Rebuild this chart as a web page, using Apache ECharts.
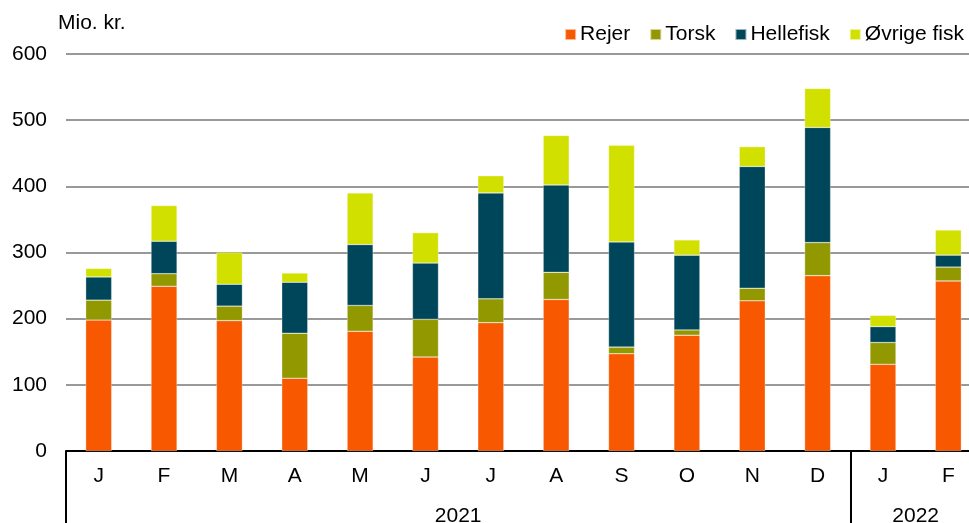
<!DOCTYPE html>
<html>
<head>
<meta charset="utf-8">
<script src="https://cdn.jsdelivr.net/npm/echarts@6/dist/echarts.min.js"></script>
<style>
  html, body { margin: 0; padding: 0; background: #fff; }
  #chart { width: 969px; height: 523px; }
</style>
</head>
<body>
<div id="chart"></div>
<script>
// months 2021 J..D, 2022 J,F
const months = ['J', 'F', 'M', 'A', 'M', 'J', 'J', 'A', 'S', 'O', 'N', 'D', 'J', 'F'];
const years = ['2021', '2022'];
const yearPos = [6, 13];

// Mio. kr.
const rejer     = [198, 249, 197, 110, 181, 142, 194, 229, 147, 175, 227, 265, 131, 257];
const torsk     = [30, 19, 22, 68, 39, 57, 36, 41, 10, 8, 19, 50, 33, 21];
const hellefisk = [35, 49, 33, 77, 92, 85, 160, 132, 159, 113, 184, 174, 24, 18];
const oevrige   = [13, 54, 48, 14, 78, 46, 26, 75, 146, 23, 30, 59, 17, 38];

const font = 'Liberation Sans, Arial, sans-serif';
const fs = 21;

function makeSeries(name, data, color) {
  return {
    name,
    type: 'bar',
    stack: 'total',
    barWidth: 26,
    data,
    itemStyle: {
      color,
      borderColor: 'rgba(255,255,255,0.6)',
      borderWidth: 0.5
    }
  };
}

const chart = echarts.init(document.getElementById('chart'));
const option = {
  animation: false,
  textStyle: { fontFamily: font },
  title: {
    text: 'Mio. kr.',
    left: 53,
    top: 8,
    textStyle: { fontSize: fs, fontWeight: 'normal', color: '#000', fontFamily: font }
  },
  legend: {
    right: 0,
    top: 19,
    itemWidth: 11,
    itemHeight: 11,
    itemGap: 19,
    icon: 'rect',
    textStyle: { fontSize: fs, color: '#000', fontFamily: font, padding: [0, 0, 0, -1] },
    data: ['Rejer', 'Torsk', 'Hellefisk', 'Øvrige fisk']
  },
  grid: {
    left: 66,
    right: -12,
    top: 54,
    bottom: 72,
    outerBoundsMode: 'none'
  },
  xAxis: [
    {
      type: 'category',
      data: months,
      axisLine: { lineStyle: { color: '#000', width: 2 } },
      axisTick: {
        show: true,
        interval: (index) => index === 0 || index === 12,
        length: 80,
        lineStyle: { color: '#000', width: 2 }
      },
      axisLabel: { fontSize: fs, color: '#000', margin: 15, fontFamily: font }
    },
    {
      type: 'value',
      position: 'bottom',
      min: 0,
      max: 14,
      interval: 1,
      axisLine: { show: false },
      axisTick: { show: false },
      splitLine: { show: false },
      axisLabel: {
        fontSize: fs,
        color: '#000',
        margin: 55,
        fontFamily: font,
        showMinLabel: false,
        showMaxLabel: false,
        formatter: (v) => {
          const i = yearPos.indexOf(v);
          return i >= 0 ? years[i] : '';
        }
      }
    }
  ],
  yAxis: {
    type: 'value',
    min: 0,
    max: 600,
    interval: 100,
    axisLine: { show: false },
    axisTick: { show: false },
    axisLabel: { fontSize: fs, color: '#000', margin: 19, fontFamily: font },
    splitLine: { lineStyle: { color: '#999', width: 2 } }
  },
  series: [
    makeSeries('Rejer', rejer, '#F85800'),
    makeSeries('Torsk', torsk, '#929900'),
    makeSeries('Hellefisk', hellefisk, '#00465A'),
    makeSeries('Øvrige fisk', oevrige, '#D2E000')
  ]
};
chart.setOption(option);
</script>
</body>
</html>
